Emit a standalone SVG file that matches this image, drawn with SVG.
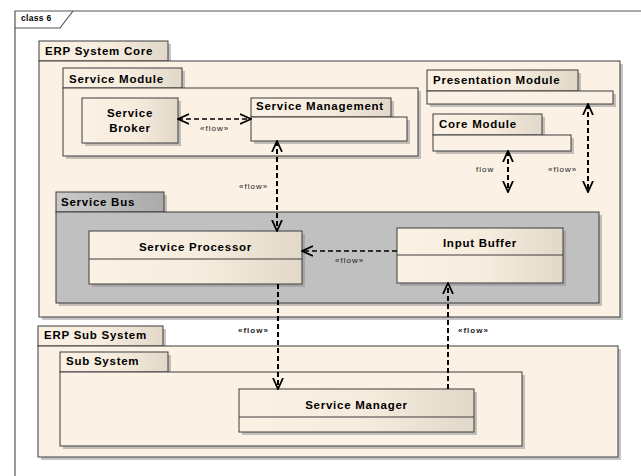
<svg xmlns="http://www.w3.org/2000/svg" width="641" height="476" viewBox="0 0 641 476">
<defs>
<linearGradient id="gBeige" x1="0" y1="0" x2="1" y2="0">
<stop offset="0" stop-color="#FBF1E4"/><stop offset="0.55" stop-color="#F6ECDE"/><stop offset="1" stop-color="#E2D8CA"/>
</linearGradient>
<linearGradient id="gGray" x1="0" y1="0" x2="1" y2="0">
<stop offset="0" stop-color="#CACACA"/><stop offset="1" stop-color="#AAAAAA"/>
</linearGradient>
<marker id="arr" viewBox="0 0 12 12" refX="11" refY="6" markerWidth="12" markerHeight="12" markerUnits="userSpaceOnUse" orient="auto-start-reverse">
<path d="M0,1 L11,6 L0,11" fill="none" stroke="#000" stroke-width="1.8"/>
</marker>
</defs>
<style>
.body{fill:#FBF1E4;stroke:#3c3c3c;stroke-width:1}
.grad{fill:url(#gBeige);stroke:#3c3c3c;stroke-width:1}
.gray{fill:#C0C0C0;stroke:#3c3c3c;stroke-width:1}
.gtab{fill:url(#gGray);stroke:#3c3c3c;stroke-width:1}
.sh{fill:#8c8c8c;opacity:0.5}
.t{font-family:"Liberation Sans",Arial,sans-serif;font-weight:bold;font-size:11.5px;letter-spacing:0.75px;fill:#000}
.c{text-anchor:middle}
.f{font-family:"Liberation Sans",Arial,sans-serif;font-size:8px;letter-spacing:1px;fill:#222}
.fb{font-weight:bold}
.ln{fill:none;stroke:#000;stroke-width:2;stroke-dasharray:5 3}
.lh{fill:none;stroke:#000;stroke-width:1.6;stroke-dasharray:5 3}
.fr{fill:none;stroke:#555;stroke-width:1.2}
</style>

<g id="frame">
<path class="fr" d="M15,476 L15,11 L641,11"/>
<path class="fr" d="M15,28 L60,28 L73,11"/>
<text x="21" y="21" style="font-family:'Liberation Sans',Arial,sans-serif;font-weight:bold;font-size:8.5px;letter-spacing:0.3px;fill:#000">class 6</text>
</g>

<g id="erp-system-core">
<rect class="sh" x="42" y="64" width="581" height="256"/>
<rect class="sh" x="42" y="44" width="129" height="20"/>
<rect class="grad" x="39" y="41" width="129" height="20"/>
<rect class="body" x="39" y="61" width="581" height="256"/>
<text class="t" x="45" y="55">ERP System Core</text>
</g>

<g id="service-module">
<rect class="sh" x="66" y="91" width="355" height="68"/>
<rect class="sh" x="66" y="71" width="119" height="20"/>
<rect class="grad" x="63" y="68" width="119" height="20"/>
<rect class="body" x="63" y="88" width="355" height="68"/>
<text class="t" x="69" y="83">Service Module</text>
</g>

<g id="service-broker">
<rect class="sh" x="85" y="101" width="96" height="45"/>
<rect class="grad" x="82" y="98" width="96" height="45"/>
<text class="t c" x="130" y="117">Service</text>
<text class="t c" x="130" y="132">Broker</text>
</g>

<g id="service-management">
<rect class="sh" x="254" y="120" width="156" height="24"/>
<rect class="sh" x="391" y="101" width="3" height="16"/>
<rect class="grad" x="251" y="98" width="140" height="19"/>
<rect class="body" x="251" y="117" width="156" height="24"/>
<text class="t" x="256" y="110">Service Management</text>
</g>

<g id="presentation-module">
<rect class="sh" x="430" y="94" width="186" height="13"/>
<rect class="sh" x="578" y="73" width="3" height="18"/>
<rect class="grad" x="427" y="70" width="151" height="21"/>
<rect class="body" x="427" y="91" width="186" height="13"/>
<text class="t" x="433" y="84">Presentation Module</text>
</g>

<g id="core-module">
<rect class="sh" x="436" y="138" width="138" height="16"/>
<rect class="sh" x="542" y="117" width="3" height="18"/>
<rect class="grad" x="433" y="114" width="109" height="21"/>
<rect class="body" x="433" y="135" width="138" height="16"/>
<text class="t" x="439" y="128">Core Module</text>
</g>

<g id="service-bus">
<rect class="sh" x="59" y="215" width="543" height="91"/>
<rect class="sh" x="59" y="195" width="108" height="20"/>
<rect class="gtab" x="56" y="192" width="108" height="20"/>
<rect class="gray" x="56" y="212" width="543" height="91"/>
<text class="t" x="61" y="206">Service Bus</text>
</g>

<g id="service-processor">
<rect class="sh" x="92" y="234" width="213" height="53"/>
<rect class="grad" x="89" y="231" width="213" height="53"/>
<line x1="89" y1="259" x2="302" y2="259" stroke="#3c3c3c"/>
<text class="t c" x="195.5" y="251">Service Processor</text>
</g>

<g id="input-buffer">
<rect class="sh" x="400" y="231" width="166" height="55"/>
<rect class="grad" x="397" y="228" width="166" height="55"/>
<line x1="397" y1="255" x2="563" y2="255" stroke="#3c3c3c"/>
<text class="t c" x="480" y="247">Input Buffer</text>
</g>

<g id="erp-sub-system">
<rect class="sh" x="41" y="349" width="580" height="111"/>
<rect class="sh" x="41" y="329" width="125" height="20"/>
<rect class="grad" x="38" y="326" width="125" height="20"/>
<rect class="body" x="38" y="346" width="580" height="111"/>
<text class="t" x="44" y="339">ERP Sub System</text>
</g>

<g id="sub-system">
<rect class="sh" x="63" y="375" width="462" height="74"/>
<rect class="sh" x="63" y="355" width="108" height="20"/>
<rect class="grad" x="60" y="352" width="108" height="20"/>
<rect class="body" x="60" y="372" width="462" height="74"/>
<text class="t" x="66" y="365">Sub System</text>
</g>

<g id="service-manager">
<rect class="sh" x="242" y="392" width="235" height="43"/>
<rect class="grad" x="239" y="389" width="235" height="43"/>
<line x1="239" y1="417" x2="474" y2="417" stroke="#3c3c3c"/>
<text class="t c" x="356.5" y="409">Service Manager</text>
</g>

<g id="connectors">
<path class="lh" d="M178,119 L251,119" marker-start="url(#arr)" marker-end="url(#arr)"/>
<text class="f" x="200" y="131">«flow»</text>
<path class="ln" d="M277,141 L277,231" marker-start="url(#arr)" marker-end="url(#arr)"/>
<text class="f" x="239" y="189">«flow»</text>
<path class="ln" d="M508,151 L508,192" marker-start="url(#arr)" marker-end="url(#arr)"/>
<text class="f" x="476" y="172">flow</text>
<path class="ln" d="M588,104 L588,192" marker-start="url(#arr)" marker-end="url(#arr)"/>
<text class="f" x="548" y="172">«flow»</text>
<path class="lh" d="M397,251 L302,251" marker-end="url(#arr)"/>
<text class="f" x="335" y="263">«flow»</text>
<path class="ln" d="M278,284 L278,389" marker-end="url(#arr)"/>
<text class="f fb" x="238" y="333">«flow»</text>
<path class="ln" d="M448,389 L448,283" marker-end="url(#arr)"/>
<text class="f fb" x="458" y="333">«flow»</text>
</g>
</svg>
